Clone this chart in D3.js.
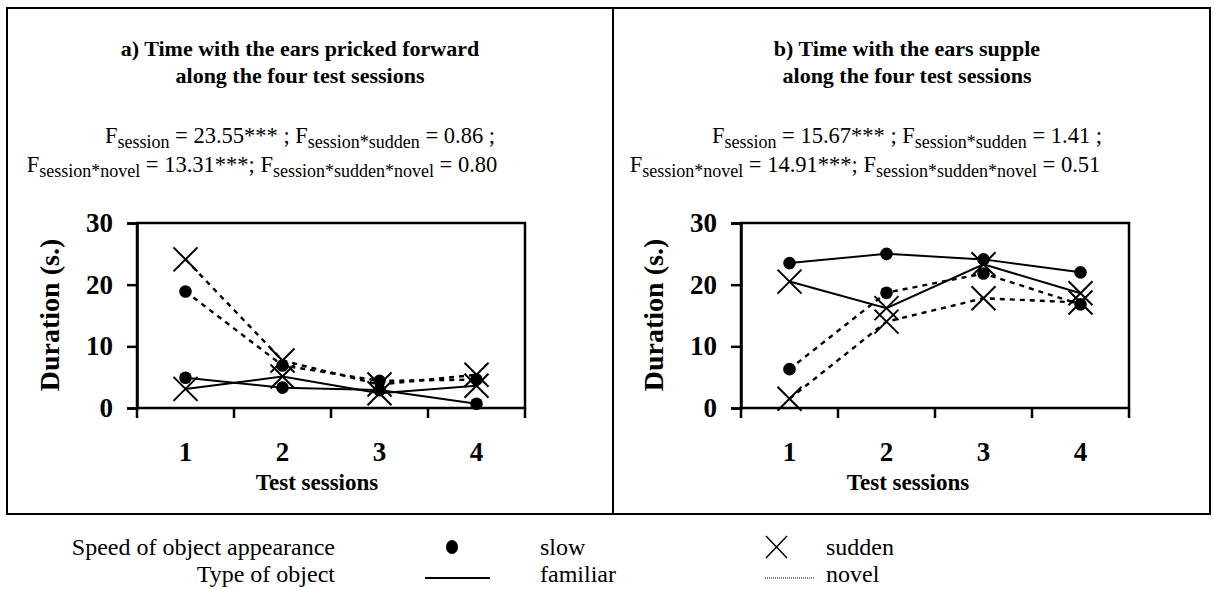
<!DOCTYPE html>
<html><head><meta charset="utf-8">
<script src="https://cdn.jsdelivr.net/npm/d3@7"></script>
<style>body{margin:0;background:#fff}svg{display:block}text{font-family:"Liberation Serif","Times New Roman",serif;fill:#000}</style>
</head><body><svg id="c" width="1214" height="589"></svg>
<script>
const sessions = [1, 2, 3, 4];
const yTicks = [0, 10, 20, 30];
// Panel a: ears pricked forward
const aSlowFamiliar   = [4.9, 3.3, 2.9, 0.7];
const aSuddenFamiliar = [3.1, 5.1, 2.4, 3.6];
const aSlowNovel      = [18.9, 6.9, 4.4, 4.6];
const aSuddenNovel    = [24.1, 7.7, 3.8, 5.4];
// Panel b: ears supple
const bSlowFamiliar   = [23.5, 25.0, 24.1, 22.0];
const bSuddenFamiliar = [20.5, 16.2, 23.3, 18.6];
const bSlowNovel      = [6.3, 18.7, 21.8, 16.8];
const bSuddenNovel    = [1.5, 14.0, 17.8, 17.1];

const svg = d3.select("#c");
svg.append("rect").attr("x",7).attr("y",8).attr("width",1203).attr("height",506)
  .attr("fill","none").attr("stroke","#000").attr("stroke-width",2);
svg.append("line").attr("x1",613).attr("x2",613).attr("y1",8).attr("y2",514)
  .attr("stroke","#000").attr("stroke-width",2);

function fline(g, cx, y, parts){
  const t = g.append("text").attr("x",cx).attr("y",y).attr("text-anchor","middle").attr("font-size",22.5);
  parts.forEach(p=>{
    if(p[1]) t.append("tspan").attr("font-size",18).attr("dy",5).text(p[0]);
    else { const s=t.append("tspan").text(p[0]); if(p[2]) s.attr("dy",-5); }
  });
}

function panel(opt){
  const g = svg.append("g");
  const x0 = opt.x0, x1 = opt.x0 + 388, yTop = 223, yBot = 408;
  const x = d3.scaleBand().domain(sessions).range([x0, x1]);
  const y = d3.scaleLinear().domain([0,30]).range([yBot, yTop]);
  const cx = d => x(d) + x.bandwidth()/2;

  g.append("text").attr("x",opt.tc).attr("y",56).attr("text-anchor","middle").attr("font-size",22).attr("font-weight","bold").text(opt.t1);
  g.append("text").attr("x",opt.tc).attr("y",83).attr("text-anchor","middle").attr("font-size",22).attr("font-weight","bold").text(opt.t2);
  fline(g, opt.tc, 143, opt.f1);
  fline(g, opt.f2c, 172, opt.f2);

  g.append("rect").attr("x",x0).attr("y",yTop).attr("width",x1-x0).attr("height",yBot-yTop)
    .attr("fill","none").attr("stroke","#000").attr("stroke-width",2.5);
  const ya = d3.axisLeft(y).tickValues(yTicks).tickSize(10).tickPadding(14).tickFormat(d3.format("d"));
  const yg = g.append("g").attr("transform",`translate(${x0},0)`).call(ya);
  yg.select(".domain").attr("stroke-width",2.5);
  yg.selectAll(".tick line").attr("stroke-width",2.5);
  yg.selectAll(".tick text").attr("font-size",27).attr("font-weight","bold").attr("font-family","Liberation Serif").attr("fill","#000");
  const bounds = sessions.map(d=>x(d)).concat([x1]);
  g.selectAll(".xt").data(bounds).join("line").attr("x1",d=>d).attr("x2",d=>d)
    .attr("y1",yBot).attr("y2",yBot+10).attr("stroke","#000").attr("stroke-width",2.5);
  g.selectAll(".xl").data(sessions).join("text").attr("x",cx).attr("y",461)
    .attr("text-anchor","middle").attr("font-size",27).attr("font-weight","bold").text(d=>d);
  g.append("text").attr("x",opt.xlc).attr("y",490).attr("text-anchor","middle").attr("font-size",23).attr("font-weight","bold").text("Test sessions");
  g.append("text").attr("transform",`translate(${opt.ylx},315) rotate(-90)`).attr("text-anchor","middle")
    .attr("dominant-baseline","middle").attr("font-size",28).attr("font-weight","bold").text("Duration (s.)");

  const line = d3.line().x((d,i)=>cx(sessions[i])).y(d=>y(d));
  opt.series.forEach(s=>{
    g.append("path").attr("d",line(s.v)).attr("fill","none").attr("stroke","#000")
      .attr("stroke-width",s.novel?2.4:2).attr("stroke-dasharray",s.novel?"5,5":null);
  });
  opt.series.forEach(s=>{
    s.v.forEach((v,i)=>{
      const px = cx(sessions[i]), py = y(v);
      if(s.sudden){
        const h=12;
        g.append("path").attr("d",`M${px-h},${py-h}L${px+h},${py+h}M${px-h},${py+h}L${px+h},${py-h}`)
          .attr("stroke","#000").attr("stroke-width",2).attr("fill","none");
      } else {
        g.append("circle").attr("cx",px).attr("cy",py).attr("r",6.3).attr("fill","#000");
      }
    });
  });
}

panel({x0:137, tc:300, f2c:262, xlc:317, ylx:53,
  t1:"a) Time with the ears pricked forward", t2:"along the four test sessions",
  f1:[["F"],["session",1],[" = 23.55*** ; F",0,1],["session*sudden",1],[" = 0.86 ;",0,1]],
  f2:[["F"],["session*novel",1],[" = 13.31***; F",0,1],["session*sudden*novel",1],[" = 0.80",0,1]],
  series:[{v:aSlowFamiliar},{v:aSuddenFamiliar,sudden:1},{v:aSlowNovel,novel:1},{v:aSuddenNovel,sudden:1,novel:1}]});
panel({x0:741, tc:907, f2c:865, xlc:908, ylx:657,
  t1:"b) Time with the ears supple", t2:"along the four test sessions",
  f1:[["F"],["session",1],[" = 15.67*** ; F",0,1],["session*sudden",1],[" = 1.41 ;",0,1]],
  f2:[["F"],["session*novel",1],[" = 14.91***; F",0,1],["session*sudden*novel",1],[" = 0.51",0,1]],
  series:[{v:bSlowFamiliar},{v:bSuddenFamiliar,sudden:1},{v:bSlowNovel,novel:1},{v:bSuddenNovel,sudden:1,novel:1}]});

const L = svg.append("g");
L.append("text").attr("x",335).attr("y",555).attr("text-anchor","end").attr("font-size",24).text("Speed of object appearance");
L.append("text").attr("x",335).attr("y",582).attr("text-anchor","end").attr("font-size",24).text("Type of object");
L.append("ellipse").attr("cx",452).attr("cy",547).attr("rx",6).attr("ry",7).attr("fill","#000");
L.append("text").attr("x",540).attr("y",555).attr("font-size",24).text("slow");
L.append("path").attr("d","M766,536L787,558M766,558L787,536").attr("stroke","#000").attr("stroke-width",1.5);
L.append("text").attr("x",826).attr("y",555).attr("font-size",24).text("sudden");
L.append("line").attr("x1",425).attr("x2",490).attr("y1",578).attr("y2",578).attr("stroke","#000").attr("stroke-width",2);
L.append("text").attr("x",540).attr("y",582).attr("font-size",24).text("familiar");
L.append("line").attr("x1",765).attr("x2",815).attr("y1",578).attr("y2",578).attr("stroke","#000").attr("stroke-width",1).attr("stroke-dasharray","1,1");
L.append("text").attr("x",826).attr("y",582).attr("font-size",24).text("novel");
</script></body></html>
